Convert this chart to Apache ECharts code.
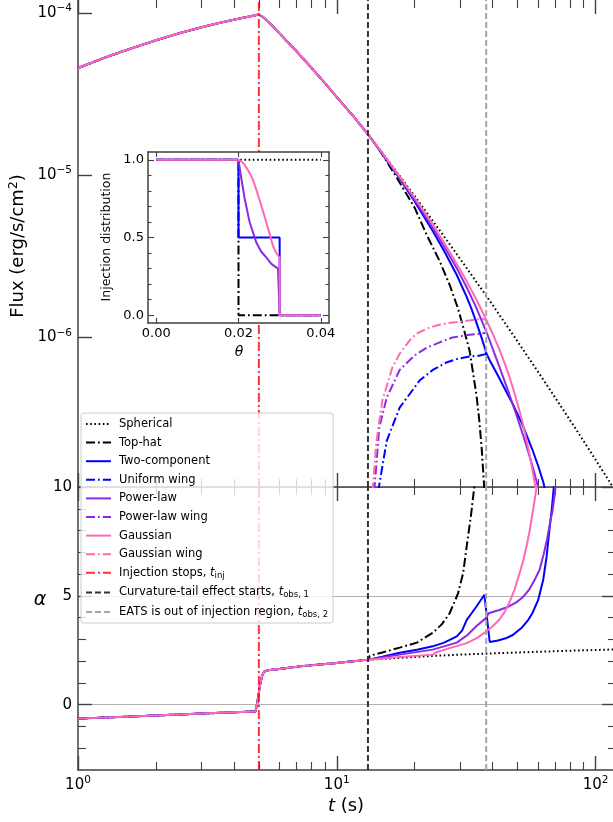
<!DOCTYPE html>
<html><head><meta charset="utf-8">
<script src="https://cdn.jsdelivr.net/npm/echarts@6/dist/echarts.min.js"></script>
<style>html,body{margin:0;padding:0;background:#fff}#c{width:613px;height:822px}</style>
</head><body><div id="c"></div>
<script>
// ---------------- data ----------------
const T_MIN = 1, T_MAX = 120;
const F_MIN = 1.2e-7, F_MAX = 1.2e-4;
const A_MIN = -3, A_MAX = 10;
const TH_MIN = -0.002, TH_MAX = 0.042, INJ_MIN = -0.05, INJ_MAX = 1.05;
const T_INJ = 5, T_OBS1 = 13.2, T_OBS2 = 37.8;

const X_MAJOR = [1, 10, 100];
const X_MINOR = [2, 3, 4, 5, 6, 7, 8, 9, 20, 30, 40, 50, 60, 70, 80, 90];
const F_TICKS = [1e-6, 1e-5, 1e-4];
const A_MAJOR = [0, 5, 10];
const A_MINOR = [-2, -1, 1, 2, 3, 4, 6, 7, 8, 9];
const TH_TICKS = [0, 0.02, 0.04];
const INJ_MAJOR = [0, 0.5, 1];
const INJ_MINOR = [0.1, 0.2, 0.3, 0.4, 0.6, 0.7, 0.8, 0.9];

// flux common to all models until t_obs,1  [t, F]
const fluxEarly = [[1,4.571e-5],[1.25,5.248e-5],[1.5,5.821e-5],[2,6.776e-5],[2.5,7.534e-5],[3,8.147e-5],[3.5,8.650e-5],[4,9.078e-5],[4.5,9.441e-5],[5,9.772e-5],[5.2,9.397e-5],[5.5,8.630e-5],[6,7.499e-5],[7,5.781e-5],[8,4.571e-5],[9,3.690e-5],[10,3.027e-5],[11.5,2.344e-5],[13.3,1.758e-5]];
const fluxSphericalLate = [[15,1.371e-5],[17.5,9.89e-6],[20,7.43e-6],[25,4.57e-6],[30,3.05e-6],[35,2.15e-6],[40,1.589e-6],[50,9.44e-7],[60,6.14e-7],[70,4.24e-7],[85,2.65e-7],[100,1.77e-7],[120,1.12e-7]];
const fluxTopHatLate = [[14.3,1.514e-5],[15.5,1.236e-5],[17.5,9.016e-6],[20,6.310e-6],[22.3,4.266e-6],[25,2.951e-6],[27.3,2.113e-6],[29.4,1.514e-6],[31,1.122e-6],[32.6,8.318e-7],[33.8,5.754e-7],[34.7,4.365e-7],[35.5,3.162e-7],[36.3,2.089e-7],[37,1.318e-7],[37.5,8.913e-8]];
const fluxTwoCompLate = [[15,1.349e-5],[17.5,9.550e-6],[20,6.887e-6],[23.5,4.529e-6],[26,3.412e-6],[29.1,2.427e-6],[31.8,1.774e-6],[33.2,1.496e-6],[34.6,1.245e-6],[36,1.035e-6],[37.2,8.810e-7],[37.9,7.943e-7],[39,7.244e-7],[42,5.821e-7],[45,4.699e-7],[47.9,3.890e-7],[52,2.951e-7],[57,2.042e-7],[60,1.622e-7],[62.8,1.288e-7],[65,1.023e-7]];
const fluxPowerLawLate = [[15,1.365e-5],[17.5,9.661e-6],[20,7.063e-6],[23.5,4.742e-6],[26,3.639e-6],[29.1,2.667e-6],[32,1.995e-6],[34.6,1.528e-6],[37.9,1.081e-6],[38.6,1.0e-6],[42.5,6.622e-7],[46,4.656e-7],[49.4,3.357e-7],[52.5,2.500e-7],[55.5,1.875e-7],[58,1.466e-7],[60.8,1.109e-7],[62,9.5e-8]];
const fluxGaussianLate = [[15,1.368e-5],[17.5,9.795e-6],[20,7.261e-6],[23.5,4.977e-6],[27.8,3.214e-6],[31.8,2.218e-6],[35,1.660e-6],[37.9,1.276e-6],[40,1.059e-6],[42.5,8.453e-7],[44.5,6.982e-7],[46.5,5.728e-7],[48.7,4.498e-7],[50.9,3.508e-7],[52.5,2.904e-7],[54.2,2.317e-7],[55.7,1.875e-7],[57.1,1.514e-7],[58.2,1.276e-7],[59.2,1.089e-7]];
const fluxUniformWing = [[14.1,8.91e-8],[15.0,1.60e-7],[15.6,2.312e-7],[17.5,3.698e-7],[20.9,5.433e-7],[23.5,6.310e-7],[26.5,7.015e-7],[29.5,7.413e-7],[32.6,7.638e-7],[35.5,7.727e-7],[37.9,7.943e-7]];
const fluxPowerLawWing = [[13.8,8.91e-8],[14.6,2.780e-7],[15.6,4.266e-7],[17.5,6.310e-7],[20,7.762e-7],[22.3,8.670e-7],[25,9.333e-7],[28,1.0e-6],[32,1.035e-6],[36.6,1.059e-6],[37.9,1.076e-6]];
const fluxGaussianWing = [[13.6,8.91e-8],[14.2,2.218e-7],[15.0,4.083e-7],[15.6,5.012e-7],[16.4,6.531e-7],[17.5,7.943e-7],[19.1,9.572e-7],[20.4,1.059e-6],[22.3,1.135e-6],[24.3,1.186e-6],[27,1.230e-6],[29.9,1.250e-6],[33,1.279e-6],[36.6,1.303e-6],[37.9,1.28e-6]];

// temporal index alpha  [t, alpha]
const alphaEarly = [[1,-0.64],[2,-0.495],[3,-0.41],[4,-0.35],[4.85,-0.31],[4.95,0.2],[5.05,0.9],[5.15,1.35],[5.25,1.52],[5.4,1.58],[6,1.64],[7.2,1.76],[10,1.92],[13.3,2.07]];
const alphaSphericalLate = [[17.5,2.15],[23.5,2.24],[30,2.30],[42.5,2.37],[60,2.43],[80,2.48],[120,2.54]];
const alphaTopHatLate = [[13.4,2.25],[15,2.4],[17.5,2.62],[20.4,2.85],[23.5,3.3],[25.5,3.7],[27.3,4.2],[29.4,5.1],[30.8,6.05],[31.8,7.3],[33.1,8.8],[34,10],[35,12]];
const alphaTwoCompLate = [[15,2.2],[17.5,2.39],[20.4,2.52],[23.5,2.68],[26,2.85],[29.1,3.14],[30.5,3.4],[31.8,3.9],[33.2,4.2],[34.6,4.5],[36,4.8],[37.2,5.05],[39,2.88],[42,2.95],[45,3.05],[47.9,3.2],[52,3.55],[55,3.9],[57,4.2],[60,4.8],[62.8,5.74],[64.7,6.8],[66.3,8.0],[67.8,9.0],[69,10],[70,11]];
const alphaPowerLawLate = [[17.5,2.3],[23.5,2.53],[29.1,2.85],[32,3.2],[34.6,3.6],[37.9,4.0],[38.6,4.2],[42.5,4.35],[46,4.5],[49.4,4.7],[52.5,4.95],[55.5,5.3],[58,5.7],[60.8,6.2],[63,6.9],[65,7.6],[66.8,8.4],[68.2,8.9],[69.3,9.5],[70,10],[71,11]];
const alphaGaussianLate = [[17.5,2.19],[23.5,2.30],[24.1,2.40],[27.3,2.6],[31.8,2.83],[35,3.08],[37.9,3.37],[40,3.6],[42.5,3.9],[44.5,4.25],[46.5,4.7],[48.7,5.3],[50.9,6.05],[52.5,6.6],[54.2,7.3],[55.7,8.0],[57.1,8.8],[58.2,9.4],[59.2,10],[60,10.8]];

// inset: injection distribution vs theta  [theta, value]
const injSpherical = [[0,1],[0.04,1]];
const injTopHat = [[0,1],[0.02,1],[0.02,0],[0.04,0]];
const injTwoComp = [[0,1],[0.02,1],[0.02,0.5],[0.03,0.5],[0.03,0],[0.04,0]];
const injPowerLaw = [[0,1],[0.02,1],[0.0205,0.91],[0.0215,0.75],[0.0227,0.60],[0.0243,0.47],[0.0255,0.41],[0.0268,0.37],[0.028,0.33],[0.0296,0.30],[0.03,0.295],[0.03,0],[0.04,0]];
const injGaussian = [[0,1],[0.02,1],[0.0207,0.99],[0.0215,0.967],[0.0225,0.925],[0.0235,0.872],[0.0243,0.81],[0.0251,0.743],[0.026,0.665],[0.0268,0.593],[0.0276,0.52],[0.0284,0.444],[0.0292,0.40],[0.03,0.37],[0.03,0],[0.04,0]];

const N = {
  sph: 'Spherical', th: 'Top-hat', tc: 'Two-component', uw: 'Uniform wing',
  pl: 'Power-law', plw: 'Power-law wing', ga: 'Gaussian', gaw: 'Gaussian wing',
  inj: 'Injection stops, t_inj', o1: 'Curvature-tail effect starts, t_obs,1', o2: 'EATS is out of injection region, t_obs,2'
};

// ---------------- styles ----------------
const FONT = 'DejaVu Sans';
const AXC = '#404040';
const C_BLUE = '#0000ff', C_PURPLE = '#8a2be2', C_PINK = '#ff69b4';
const C_RED = 'rgba(255,0,0,0.8)', C_OBS1 = '#333333', C_OBS2 = '#a6a6a6';
const DOT = [1.6, 2.6], DASHDOT = [9, 3, 1.8, 3], DASH = [6, 3];
const LW = 2;

const supRich = {
  b: {fontSize: 15, fontFamily: FONT, color: '#000', lineHeight: 20},
  sup: {fontSize: 10.5, fontFamily: FONT, color: '#000', lineHeight: 11, verticalAlign: 'top'}
};
function powFmt(v) {
  const e = Math.round(Math.log10(v));
  return '{b|10}{sup|' + (e < 0 ? '\u2212' + (-e) : e) + '}';
}

function mkAxis(base, ticks, len, showLine, label, extra) {
  return Object.assign({
    axisLine: {show: showLine, onZero: false, lineStyle: {color: AXC, width: 1.5}},
    axisTick: {show: true, inside: true, length: len, customValues: ticks, lineStyle: {color: AXC, width: len > 9 ? 1.4 : 1.1}},
    axisLabel: label ? Object.assign({show: true, color: '#000', fontFamily: FONT}, label) : {show: false},
    splitLine: {show: false}, minorTick: {show: false}, minorSplitLine: {show: false},
    silent: true
  }, base, extra || {});
}

const xLog = (g, pos) => ({type: 'log', logBase: 10, min: T_MIN, max: T_MAX, gridIndex: g, position: pos});
const xLabel = {customValues: X_MAJOR, formatter: powFmt, rich: supRich, fontSize: 15, margin: 5};

const xAxes = [
  mkAxis(xLog(0, 'bottom'), X_MAJOR, 14, true, null),
  mkAxis(xLog(0, 'bottom'), X_MINOR, 8, false, null),
  mkAxis(xLog(0, 'top'), X_MAJOR, 14, false, null),
  mkAxis(xLog(0, 'top'), X_MINOR, 8, false, null),
  mkAxis(xLog(1, 'bottom'), X_MAJOR, 14, true, xLabel),
  mkAxis(xLog(1, 'bottom'), X_MINOR, 8, false, null),
  mkAxis(xLog(1, 'top'), X_MAJOR, 14, false, null),
  mkAxis(xLog(1, 'top'), X_MINOR, 8, false, null),
  mkAxis({type: 'value', min: TH_MIN, max: TH_MAX, gridIndex: 2, position: 'bottom'}, TH_TICKS, 5, true,
       {customValues: TH_TICKS, formatter: v => v.toFixed(2), fontSize: 13, margin: 4}, {z: 12}),
  mkAxis({type: 'value', min: TH_MIN, max: TH_MAX, gridIndex: 2, position: 'top'}, TH_TICKS, 5, true, null, {z: 12})
];

const aBase = pos => ({type: 'value', min: A_MIN, max: A_MAX, gridIndex: 1, position: pos});
const iBase = pos => ({type: 'value', min: INJ_MIN, max: INJ_MAX, gridIndex: 2, position: pos});
const yAxes = [
  mkAxis({type: 'log', logBase: 10, min: F_MIN, max: F_MAX, gridIndex: 0, position: 'left'}, F_TICKS, 14, true,
       {customValues: F_TICKS, formatter: powFmt, rich: supRich, fontSize: 15, margin: 6}),
  mkAxis(aBase('left'), A_MAJOR, 14, true, {customValues: A_MAJOR, fontSize: 15, margin: 6},
       {splitLine: {show: true, lineStyle: {color: '#b0b0b0', width: 1}}}),
  mkAxis(aBase('left'), A_MINOR, 8, false, null),
  mkAxis(aBase('right'), A_MAJOR, 14, true, null),
  mkAxis(aBase('right'), A_MINOR, 8, false, null),
  mkAxis(iBase('left'), INJ_MAJOR, 6, true, {customValues: INJ_MAJOR, formatter: v => v.toFixed(1), fontSize: 13, margin: 4}, {z: 12}),
  mkAxis(iBase('left'), INJ_MINOR, 3.5, false, null, {z: 12}),
  mkAxis(iBase('right'), INJ_MAJOR, 6, true, null, {z: 12}),
  mkAxis(iBase('right'), INJ_MINOR, 3.5, false, null, {z: 12})
];

function mkLine(name, data, color, dash, xi, yi, extra) {
  return Object.assign({
    type: 'line', name: name, data: data, xAxisIndex: xi, yAxisIndex: yi,
    symbol: 'none', showSymbol: false, clip: true, silent: true,
    lineStyle: {color: color, width: LW, type: dash || 'solid'},
    itemStyle: {color: color}, emphasis: {disabled: true}
  }, extra || {});
}
const sTop = (n, d, c, s) => mkLine(n, d, c, s, 0, 0);
const sBot = (n, d, c, s) => mkLine(n, d, c, s, 4, 1);
const sIns = (n, d, c, s) => mkLine(n, d, c, s, 8, 5, {z: 11});

const seriesList = [
  sTop(N.sph, fluxEarly.concat(fluxSphericalLate), '#000', DOT),
  sTop(N.th, fluxEarly.concat(fluxTopHatLate), '#000', DASHDOT),
  sTop(N.tc, fluxEarly.concat(fluxTwoCompLate), C_BLUE),
  sTop(N.uw, fluxUniformWing, C_BLUE, DASHDOT),
  sTop(N.pl, fluxEarly.concat(fluxPowerLawLate), C_PURPLE),
  sTop(N.plw, fluxPowerLawWing, C_PURPLE, DASHDOT),
  sTop(N.ga, fluxEarly.concat(fluxGaussianLate), C_PINK),
  sTop(N.gaw, fluxGaussianWing, C_PINK, DASHDOT),
  sTop(N.inj, [[T_INJ, F_MIN], [T_INJ, F_MAX]], C_RED, [9, 3, 2, 3]),
  sTop(N.o1, [[T_OBS1, F_MIN], [T_OBS1, F_MAX]], C_OBS1, DASH),
  sTop(N.o2, [[T_OBS2, F_MIN], [T_OBS2, F_MAX]], C_OBS2, DASH),

  sBot(N.sph, alphaEarly.concat(alphaSphericalLate), '#000', DOT),
  sBot(N.th, alphaEarly.concat(alphaTopHatLate), '#000', DASHDOT),
  sBot(N.tc, alphaEarly.concat(alphaTwoCompLate), C_BLUE),
  sBot(N.pl, alphaEarly.concat(alphaPowerLawLate), C_PURPLE),
  sBot(N.ga, alphaEarly.concat(alphaGaussianLate), C_PINK),
  sBot(N.inj, [[T_INJ, A_MIN], [T_INJ, A_MAX]], C_RED, [9, 3, 2, 3]),
  sBot(N.o1, [[T_OBS1, A_MIN], [T_OBS1, A_MAX]], C_OBS1, DASH),
  sBot(N.o2, [[T_OBS2, A_MIN], [T_OBS2, A_MAX]], C_OBS2, DASH),

  sIns(N.sph, injSpherical, '#000', DOT),
  sIns(N.th, injTopHat, '#000', DASHDOT),
  sIns(N.tc, injTwoComp, C_BLUE),
  sIns(N.pl, injPowerLaw, C_PURPLE),
  sIns(N.ga, injGaussian, C_PINK)
];

const LEG_FS = 11.5;
const legRich = {
  g: {width: 3},
  n: {fontSize: LEG_FS, fontFamily: FONT, color: '#000', lineHeight: 14},
  i: {fontSize: LEG_FS, fontFamily: FONT, fontStyle: 'italic', color: '#000', lineHeight: 14},
  s: {fontSize: 8.5, fontFamily: FONT, color: '#000', lineHeight: 9, verticalAlign: 'bottom'}
};
function legFmt(name) {
  if (name === N.inj) return '{g|}{n|Injection stops, }{i|t}{s|inj}';
  if (name === N.o1) return '{g|}{n|Curvature-tail effect starts, }{i|t}{s|obs, 1}';
  if (name === N.o2) return '{g|}{n|EATS is out of injection region, }{i|t}{s|obs, 2}';
  return '{g|}{n|' + name + '}';
}

const option = {
  animation: false,
  backgroundColor: '#fff',
  grid: [
    {left: 78, top: 0, width: 538, height: 487, outerBoundsMode: 'none', containLabel: false},
    {left: 78, top: 487, width: 538, height: 283, outerBoundsMode: 'none', containLabel: false},
    {left: 148, top: 152, width: 181, height: 171, show: true, backgroundColor: '#fff', borderWidth: 0, z: 10, outerBoundsMode: 'none', containLabel: false}
  ],
  xAxis: xAxes,
  yAxis: yAxes,
  legend: {
    data: [N.sph, N.th, N.tc, N.uw, N.pl, N.plw, N.ga, N.gaw, N.inj, N.o1, N.o2],
    orient: 'vertical', left: 81, top: 413,
    itemWidth: 25, itemHeight: 14, itemGap: 6.6,
    padding: [5, 5, 4, 4],
    backgroundColor: 'rgba(255,255,255,0.8)', borderColor: '#cccccc', borderWidth: 1, borderRadius: 3,
    selectedMode: false,
    itemStyle: {opacity: 0},
    lineStyle: {opacity: 1},
    textStyle: {fontFamily: FONT, fontSize: LEG_FS, color: '#000', rich: legRich},
    formatter: legFmt
  },
  graphic: [
    {type: 'text', x: 18, y: 246, rotation: Math.PI / 2, silent: true,
     style: {text: '{a|Flux (erg/s/cm}{s|2}{a|)}', align: 'center', verticalAlign: 'middle',
       rich: {a: {fontSize: 18, fontFamily: FONT, fill: '#000', lineHeight: 22},
              s: {fontSize: 12.5, fontFamily: FONT, fill: '#000', lineHeight: 12, verticalAlign: 'top'}}}},
    {type: 'text', x: 40, y: 600, silent: true,
     style: {text: '\u03b1', fontSize: 19, fontFamily: FONT, fontStyle: 'italic', fill: '#000', align: 'center', verticalAlign: 'middle'}},
    {type: 'text', x: 346, y: 806, silent: true,
     style: {text: '{i|t}{a| (s)}', align: 'center', verticalAlign: 'middle',
       rich: {i: {fontSize: 18, fontFamily: FONT, fontStyle: 'italic', fill: '#000'},
              a: {fontSize: 18, fontFamily: FONT, fill: '#000'}}}},
    {type: 'text', x: 107, y: 237, rotation: Math.PI / 2, silent: true,
     style: {text: 'Injection distribution', fontSize: 12.5, fontFamily: FONT, fill: '#000', align: 'center', verticalAlign: 'middle'}},
    {type: 'text', x: 239, y: 352, silent: true,
     style: {text: '\u03b8', fontSize: 14, fontFamily: FONT, fontStyle: 'italic', fill: '#000', align: 'center', verticalAlign: 'middle'}}
  ],
  series: seriesList
};

const chart = echarts.init(document.getElementById('c'), null, {renderer: 'canvas'});
chart.setOption(option);
</script>
</body></html>
